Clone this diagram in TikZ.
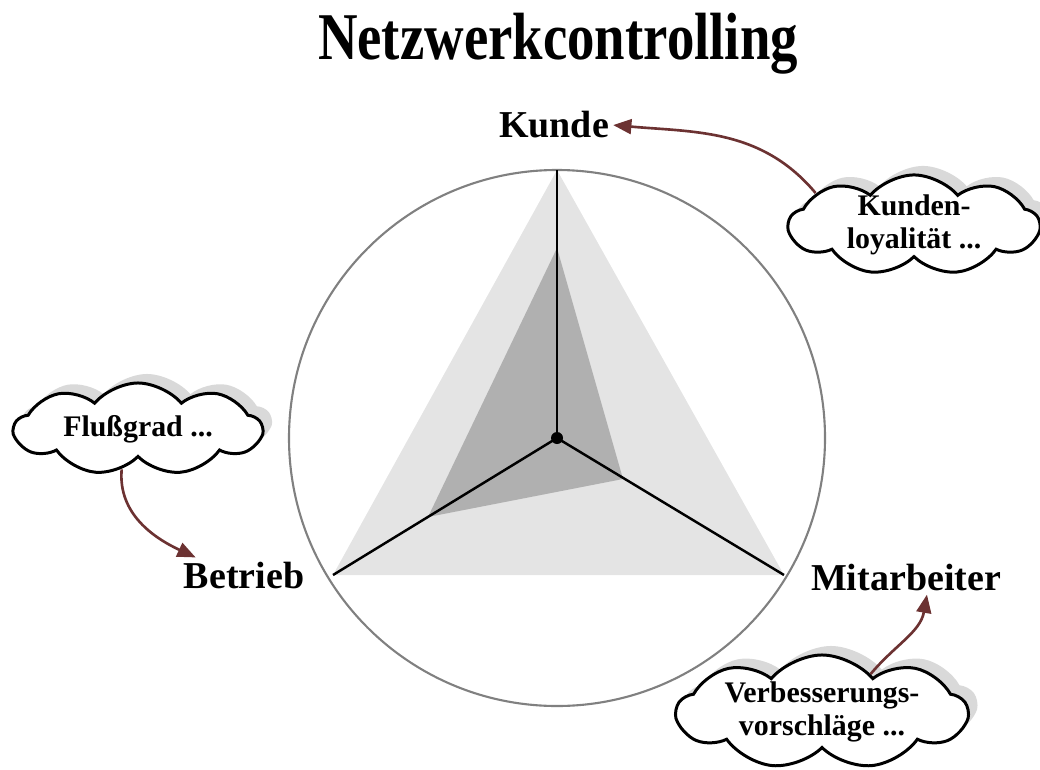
\documentclass[tikz,border=0pt]{standalone}
\usepackage{fontspec}
\setmainfont{Liberation Serif}
\usetikzlibrary{shapes.symbols, shadows, arrows.meta}
\definecolor{lightshade}{RGB}{228,228,228}
\definecolor{darkshade}{RGB}{176,176,176}
\definecolor{ringgray}{RGB}{128,128,128}
\definecolor{arrowred}{RGB}{108,50,50}
\tikzset{
  axislabel/.style = {font = \bfseries\fontsize{10.8}{13}\selectfont, inner sep = 1pt},
  thought/.style = {cloud, cloud puffs = 9, cloud puff arc = 100, cloud ignores aspect,
                    draw, line width = .85pt, fill = white, inner sep = 0pt, align = center,
                    font = \bfseries\fontsize{8.5}{9.2}\selectfont,
                    drop shadow = {shadow xshift = .09cm, shadow yshift = .09cm,
                                   fill = black!15, opacity = 1}},
  pointer/.style = {arrowred, line width = .75pt, -{Triangle[length = 5.2pt, width = 4.2pt]}}
}
\begin{document}
\begin{tikzpicture}[x = .01cm, y = .01cm]
\useasboundingbox (0, 0) rectangle (1040, 769);
\coordinate (o) at (557, 331);
\coordinate (top) at (557, 599);
\coordinate (left) at (333, 194);
\coordinate (right) at (784, 194);
% shaded areas
\fill[lightshade] (top) -- (left) -- (right) -- cycle;
\fill[darkshade] (557, 521) -- (428, 252) -- (623, 290) -- cycle;
\draw[ringgray, line width = .6pt] (o) circle (268);
\draw[line width = .7pt] (o) -- (top);
\draw[line width = .7pt] (o) -- (left);
\draw[line width = .7pt] (o) -- (right);
\fill (o) circle (6);
% labels
\draw (558, 709) node[anchor = base, xscale = .82,
      font = \bfseries\fontsize{19}{23}\selectfont] (title) {Netzwerkcontrolling};
\draw (554, 631) node[axislabel, anchor = base] (kunde) {Kunde};
\draw (244, 181) node[axislabel, anchor = base] (betrieb) {Betrieb};
\draw (906, 179) node[axislabel, anchor = base] (mit) {Mitarbeiter};
% clouds
\draw (914, 544) node[thought, inner ysep = -1pt, minimum width = 2.5cm, minimum height = .9cm] (kl) {Kunden-\\loyalität ...};
\draw (138, 340) node[thought, minimum width = 2.47cm, minimum height = .92cm] (fg) {Flußgrad ...};
\draw (822, 57) node[thought, inner ysep = -1pt, minimum width = 2.9cm, minimum height = 1.14cm] (vb) {Verbesserungs-\\vorschläge ...};
\draw[pointer, out = 130, in = -5] (kl.162) to (kunde.east);
\draw[pointer, out = -95, in = 155] (fg.-112) to (betrieb.160);
\draw[pointer, out = 50, in = -100] (vb.38) to (mit.-40);
\end{tikzpicture}
\end{document}
